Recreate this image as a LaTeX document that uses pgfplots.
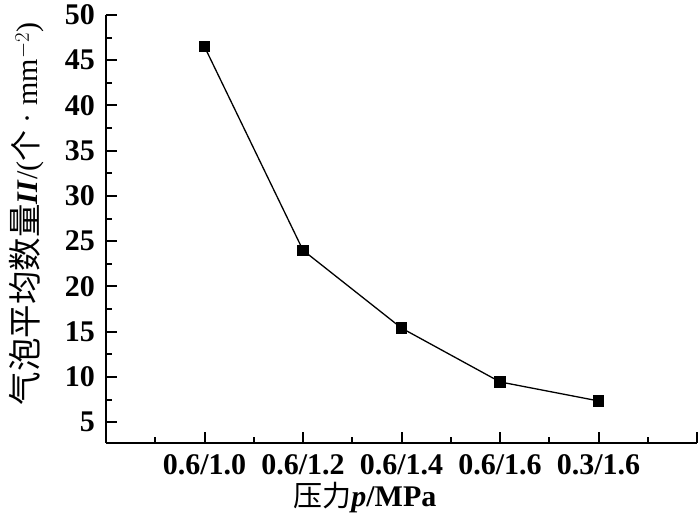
\documentclass[border=0pt]{standalone}
\usepackage{pgfplots}
\pgfplotsset{compat=1.18}
\usepackage{fontspec}
\setmainfont{Liberation Serif}
\newfontfamily\cjk{Noto Sans CJK SC}
\begin{document}
\begin{tikzpicture}
\begin{axis}[
 at={(0,0)}, anchor=south west,
 scale only axis, width=591pt, height=428pt,
 xmin=0, xmax=6, ymin=2.7, ymax=50,
 axis x line*=bottom, axis y line*=left,
 axis line style={-, line width=2.4pt},
 xtick={1,2,3,4,5,6},
 xticklabels={0.6/1.0,0.6/1.2,0.6/1.4,0.6/1.6,0.3/1.6,{}},
 minor xtick={0.5,1.5,2.5,3.5,4.5,5.5},
 ytick={5,10,...,50},
 minor ytick={7.5,12.5,...,47.5},
 tick align=inside,
 major tick length=11pt, minor tick length=6pt,
 every tick/.style={line width=2pt, black},
 /pgf/number format/assume math mode=true,
 ticklabel style={font=\fontsize{30}{34}\selectfont\bfseries},
 xticklabel style={inner sep=0pt, yshift=-11pt},
 yticklabel style={inner sep=0pt, xshift=-11pt},
 every axis y label/.style={at={(rel axis cs:-0.1337,0.535)}, anchor=center, rotate=90},
 every axis x label/.style={at={(rel axis cs:0.438,0)}, anchor=center, yshift=-55pt},
 label style={font=\fontsize{30}{34}\selectfont},
 ylabel={{\cjk\fontsize{33.5}{34}\selectfont 气泡平均数量}\textbf{\textit{II}}/({\cjk\fontsize{31}{34}\selectfont 个} · mm$^{-2}$)},
 xlabel={{\cjk\fontsize{29}{34}\selectfont 压力}\textbf{\textit{p}/MPa}},
 clip=false,
]
\addplot[black, line width=1.3pt, mark=square*, mark size=5pt, mark options={solid, fill=black}]
 coordinates {(1,46.5) (2,24.0) (3,15.4) (4,9.45) (5,7.35)};
\end{axis}
\pgfresetboundingbox
\path (-106pt,-83pt) rectangle (594pt,443pt);
\end{tikzpicture}
\end{document}
